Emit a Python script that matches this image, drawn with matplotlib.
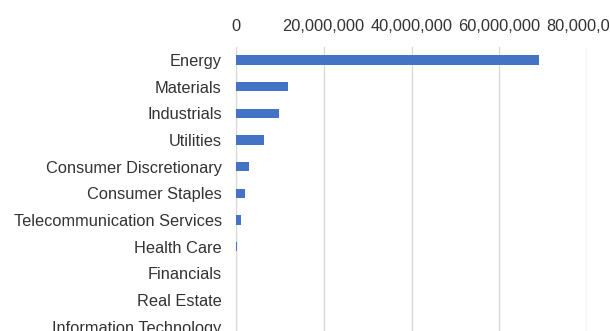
import matplotlib.pyplot as plt
from matplotlib.ticker import FuncFormatter

# sector totals
sectors = ['Energy', 'Materials', 'Industrials', 'Utilities',
           'Consumer Discretionary', 'Consumer Staples',
           'Telecommunication Services', 'Health Care', 'Financials',
           'Real Estate', 'Information Technology']
values = [68900000, 11900000, 9900000, 6400000, 3000000, 2100000,
          1100000, 200000, 0, 0, 0]
x_ticks = [0, 20000000, 40000000, 60000000, 80000000]

plt.rcParams['font.family'] = ['Liberation Sans', 'DejaVu Sans']

fig = plt.figure(figsize=(6.10, 3.31), dpi=100)
# plot area runs past the right and bottom edges of the image
ax = fig.add_axes([235.7 / 610, 1 - 340.0 / 331, 351.6 / 610, (340.0 - 46.7) / 331])

pos = list(range(len(sectors)))
ax.barh(pos, values, height=0.36, color='#4472C4', zorder=3)
ax.set_ylim(len(sectors) - 0.5, -0.5)
ax.set_yticks(pos)
ax.set_yticklabels(sectors)

ax.set_xlim(0, 80000000)
ax.set_xticks(x_ticks)
ax.xaxis.set_major_formatter(FuncFormatter(lambda v, p: '{:,.0f}'.format(v)))
ax.xaxis.tick_top()
ax.grid(axis='x', color='#d9d9d9', linewidth=1, zorder=0)

for s in ['top', 'right', 'bottom']:
    ax.spines[s].set_visible(False)
ax.spines['left'].set_color('#d9d9d9')
ax.tick_params(axis='both', length=0, labelsize=11.8, colors='#333333')
ax.tick_params(axis='x', pad=9)
ax.tick_params(axis='y', pad=10)

fig.savefig('out.png', dpi=100)
